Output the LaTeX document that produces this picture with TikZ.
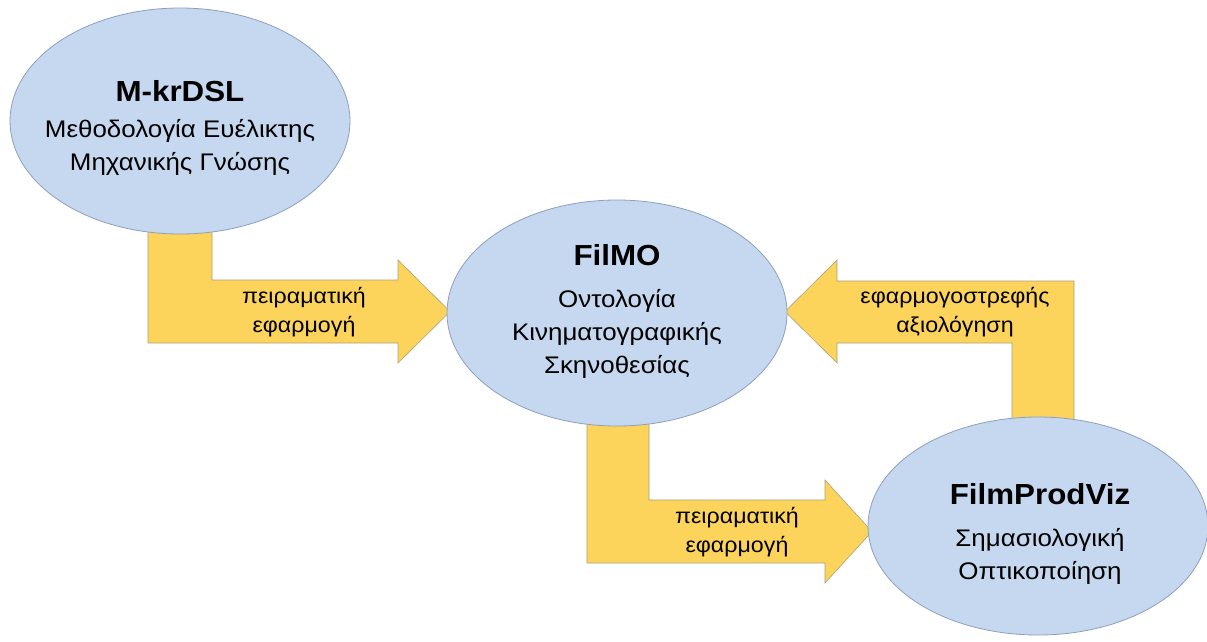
\documentclass[tikz,border=0pt]{standalone}
\usepackage{fontspec}
\setmainfont[FakeStretch=1.08]{Liberation Sans}
\usetikzlibrary{shapes.geometric}
\definecolor{bubble}{RGB}{198,216,239}
\definecolor{bubbleline}{RGB}{140,160,190}
\definecolor{gold}{RGB}{252,212,92}
\definecolor{goldline}{RGB}{175,160,120}
\tikzset{
  bubble/.style={ellipse, draw=bubbleline, line width=0.8pt, fill=bubble,
    minimum width=340, minimum height=226, inner sep=0pt},
  title/.style={font=\fontsize{29}{31}\selectfont\bfseries, inner sep=0pt},
  body/.style={font=\fontsize{24}{33}\selectfont, align=center, inner sep=0pt},
  label/.style={font=\fontsize{21.5}{29}\selectfont, align=center, inner sep=0pt},
  blockarrow/.style={fill=gold, draw=goldline, line width=0.6pt, line join=miter}
}
\begin{document}
\begin{tikzpicture}[x=1pt,y=-1pt]
\useasboundingbox (0,0) rectangle (1207,641);

% bent block arrows (drawn first, the bubbles cover their ends)
\draw[blockarrow] (148,200) -- (148,343) -- (398,343) -- (398,363) -- (450,311.5)
  -- (398,260) -- (398,280) -- (212,280) -- (212,200) -- cycle;
\draw[blockarrow] (587,400) -- (587,563) -- (825,563) -- (825,583) -- (872,531.5)
  -- (825,480) -- (825,500) -- (649,500) -- (649,400) -- cycle;
\draw[blockarrow] (1074,450) -- (1074,281) -- (837,281) -- (837,260) -- (785,311.5)
  -- (837,363) -- (837,343) -- (1012,343) -- (1012,450) -- cycle;

% bubbles
\node[bubble] (mk) at (180,121) {};
\node[bubble] (fm) at (617,313) {};
\node[bubble, minimum height=218] (fp) at (1038,526) {};

\node[title] (mkT) at (180,91) {M-krDSL};
\node[body] (mkB) at (180,147) {Μεθοδολογία Ευέλικτης\\Μηχανικής Γνώσης};

\node[title] (fmT) at (617,255) {FilMO};
\node[body] (fmB) at (617,334) {Οντολογία\\Κινηματογραφικής\\Σκηνοθεσίας};

\node[title] (fpT) at (1040,494) {FilmProdViz};
\node[body] (fpB) at (1040,556) {Σημασιολογική\\Οπτικοποίηση};

% arrow labels
\node[label] (l1) at (304,312) {πειραματική\\εφαρμογή};
\node[label] (l2) at (737,532) {πειραματική\\εφαρμογή};
\node[label] (l3) at (955,312) {εφαρμογοστρεφής\\αξιολόγηση};
\end{tikzpicture}
\end{document}
